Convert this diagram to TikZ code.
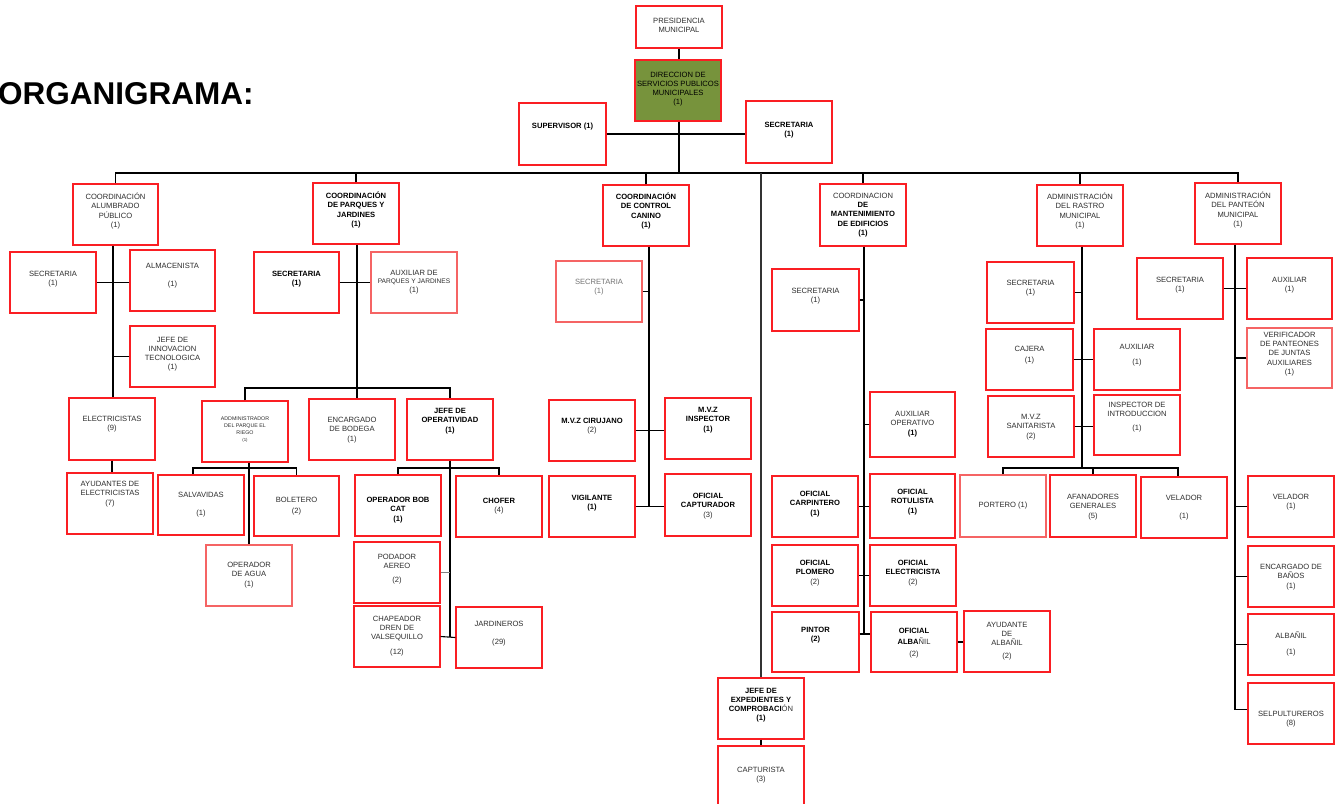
\documentclass[tikz,border=0pt]{standalone}
\usepackage{fontspec}
\setmainfont{Liberation Sans}
\usetikzlibrary{fit}
\definecolor{boxred}{RGB}{250,30,35}
\definecolor{lightred}{RGB}{245,100,100}
\definecolor{dirgreen}{RGB}{119,147,60}
\definecolor{txtgray}{RGB}{45,45,45}
\newcommand\bx[8][]{%
  \node[box,#1,fit={(#3,#4)(#5,#6)}] (#2) {};%
  \pgfmathsetmacro\bxc{(#3+#5)/2}%
  \node[txt] at (\bxc,#7) {#8};}
\newcommand\B[1]{\textbf{\color{black}#1}}
\newcommand\K[1]{{\color{black}#1}}
\newcommand\G[1]{{\color{black!55}#1}}
\newcommand\T[1]{{\fontsize{5.3}{6.5}\selectfont #1}}
\begin{document}
\begin{tikzpicture}[x=1pt,y=-1pt,
  box/.style={draw=boxred, line width=1.3pt, fill=white, inner sep=0pt},
  lightbox/.style={draw=lightred},
  txt/.style={align=center, font=\fontsize{7.6}{9.2}\selectfont, text=txtgray, inner sep=0pt},
  con/.style={draw=black, line width=1.1pt},
  stub/.style={draw=black!50, line width=1.1pt},
  long/.style={draw=black!80, line width=2.2pt}]
\useasboundingbox (0,0) rectangle (1335,803);

\node[anchor=west, inner sep=0pt, font=\bfseries\fontsize{31.5}{36}\selectfont] (title) at (-2,93.5) {ORGANIGRAMA:};

% top
\bx{pres}{636}{6}{722}{48}{25}{PRESIDENCIA\\MUNICIPAL}
\bx[fill=dirgreen]{dir}{635}{60}{721}{121}{89}{\K{DIRECCION DE}\\\K{SERVICIOS PUBLICOS}\\\K{MUNICIPALES}\\\K{(1)}}
\bx{sup}{519}{103}{606}{165}{127}{\B{SUPERVISOR (1)}}
\bx{sec0}{746}{101}{832}{163}{130}{\B{SECRETARIA}\\\B{(1)}}

% column 1
\bx{alum}{73}{184}{158}{245}{211}{COORDINACIÓN\\ALUMBRADO\\PÚBLICO\\(1)}
\bx{sec1}{10}{252}{96}{313}{279}{SECRETARIA\\(1)}
\bx{alm}{130}{250}{215}{311}{276}{ALMACENISTA\\[9pt](1)}
\bx{jinn}{130}{326}{215}{387}{354}{JEFE DE\\INNOVACION\\TECNOLOGICA\\(1)}
\bx{elec}{69}{398}{155}{460}{424}{ELECTRICISTAS\\(9)}
\bx{ayud}{67}{473}{153}{534}{494}{AYUDANTES DE\\ELECTRICISTAS\\(7)}

% column 2
\bx{parq}{313}{183}{399}{244}{210}{\B{COORDINACIÓN}\\\B{DE PARQUES Y}\\\B{JARDINES}\\\B{(1)}}
\bx{secp}{254}{252}{339}{313}{279}{\B{SECRETARIA}\\\B{(1)}}
\bx[lightbox]{auxp}{371}{252}{457}{313}{282}{AUXILIAR DE\\[-1pt]{\fontsize{6.6}{8}\selectfont PARQUES Y JARDINES}\\[-1pt](1)}
\bx{adm}{202}{401}{288}{462}{430}{\T{ADDMINISTRADOR}\\[-2.2pt]\T{DEL PARQUE EL}\\[-2.2pt]\T{RIEGO}\\[-2.2pt]{\fontsize{4.3}{5}\selectfont (1)}}
\bx{enc}{309}{399}{395}{460}{430}{ENCARGADO\\DE BODEGA\\(1)}
\bx{jop}{407}{399}{493}{460}{421}{\B{JEFE DE}\\\B{OPERATIVIDAD}\\\B{(1)}}
\bx{salv}{158}{475}{244}{535}{505}{SALVAVIDAS\\[9pt](1)}
\bx{bol}{254}{476}{339}{536}{506}{BOLETERO\\[2pt](2)}
\bx[lightbox]{agua}{206}{545}{292}{606}{575}{OPERADOR\\DE AGUA\\(1)}
\bx{bob}{355}{475}{441}{536}{510}{\B{OPERADOR BOB}\\\B{CAT}\\\B{(1)}}
\bx{chof}{456}{476}{542}{537}{506}{\B{CHOFER}\\(4)}
\bx{pod}{354}{542}{440}{603}{569}{PODADOR\\AEREO\\[5pt](2)}
\bx{chap}{354}{606}{440}{667}{636}{CHAPEADOR\\DREN DE\\VALSEQUILLO\\[5pt](12)}
\bx{jard}{456}{607}{542}{668}{634}{JARDINEROS\\[9pt](29)}

% column 3
\bx{can}{603}{185}{689}{246}{211}{\B{COORDINACIÓN}\\\B{DE CONTROL}\\\B{CANINO}\\\B{(1)}}
\bx[lightbox]{secc}{556}{261}{642}{322}{287}{\G{SECRETARIA}\\\G{(1)}}
\bx{cir}{549}{400}{635}{461}{426}{\B{M.V.Z CIRUJANO}\\(2)}
\bx{insp}{665}{398}{751}{459}{420}{\B{M.V.Z}\\\B{INSPECTOR}\\\B{(1)}}
\bx{vig}{549}{476}{635}{537}{503}{\B{VIGILANTE}\\\B{(1)}}
\bx{capt}{665}{474}{751}{536}{506}{\B{OFICIAL}\\\B{CAPTURADOR}\\(3)}

% column 4
\bx{mant}{820}{184}{906}{246}{215}{COORDINACION\\\B{DE}\\\B{MANTENIMIENTO}\\\B{DE EDIFICIOS}\\\B{(1)}}
\bx{secm}{772}{269}{859}{331}{296}{SECRETARIA\\(1)}
\bx{auxo}{870}{392}{955}{457}{424}{AUXILIAR\\OPERATIVO\\\B{(1)}}
\bx{carp}{772}{476}{858}{537}{504}{\B{OFICIAL}\\\B{CARPINTERO}\\\B{(1)}}
\bx{rot}{870}{474}{955}{538}{502}{\B{OFICIAL}\\\B{ROTULISTA}\\\B{(1)}}
\bx{plom}{772}{545}{858}{606}{573}{\B{OFICIAL}\\\B{PLOMERO}\\(2)}
\bx{elc}{870}{545}{956}{606}{573}{\B{OFICIAL}\\\B{ELECTRICISTA}\\(2)}
\bx{pint}{772}{612}{859}{672}{635}{\B{PINTOR}\\\B{(2)}}
\bx{alb}{871}{612}{957}{672}{643}{\B{OFICIAL}\\[2pt]\B{ALBA}ÑIL\\[2pt](2)}
\bx{ayalb}{964}{611}{1050}{672}{641}{AYUDANTE\\DE\\ALBAÑIL\\[4pt](2)}
\bx{jexp}{718}{678}{804}{739}{705}{\B{JEFE DE}\\\B{EXPEDIENTES Y}\\\B{COMPROBACI}ÓN\\\B{(1)}}
\bx{captu}{718}{746}{804}{812}{775}{CAPTURISTA\\(3)}

% column 5
\bx{ras}{1037}{185}{1123}{246}{211}{ADMINISTRACIÓN\\DEL RASTRO\\MUNICIPAL\\(1)}
\bx{secr}{987}{262}{1074}{323}{288}{SECRETARIA\\(1)}
\bx{caj}{986}{329}{1073}{390}{355}{CAJERA\\[2pt](1)}
\bx{auxr}{1094}{329}{1180}{390}{355}{AUXILIAR\\[6pt](1)}
\bx{san}{988}{396}{1074}{457}{427}{M.V.Z\\SANITARISTA\\(2)}
\bx{insr}{1094}{395}{1180}{455}{417}{INSPECTOR DE\\INTRODUCCION\\[5pt](1)}
\bx[lightbox]{port}{960}{475}{1046}{537}{506}{PORTERO (1)}
\bx{afan}{1050}{475}{1136}{537}{507}{AFANADORES\\GENERALES\\(5)}
\bx{vel1}{1141}{477}{1227}{538}{508}{VELADOR\\[9pt](1)}

% column 6
\bx{pan}{1195}{183}{1281}{244}{210}{ADMINISTRACIÓN\\DEL PANTEÓN\\MUNICIPAL\\(1)}
\bx{secpn}{1137}{258}{1223}{319}{285}{SECRETARIA\\(1)}
\bx{auxpn}{1247}{258}{1332}{319}{285}{AUXILIAR\\(1)}
\bx[lightbox]{verif}{1247}{328}{1332}{388}{354}{VERIFICADOR\\DE PANTEONES\\DE JUNTAS\\AUXILIARES\\(1)}
\bx{velp}{1248}{476}{1334}{537}{502}{VELADOR\\(1)}
\bx{banos}{1248}{546}{1334}{607}{577}{ENCARGADO DE\\BAÑOS\\(1)}
\bx{albp}{1248}{614}{1334}{675}{644}{ALBAÑIL\\[6pt](1)}
\bx{selp}{1248}{683}{1334}{744}{719}{SELPULTUREROS\\(8)}

% ---------- connectors ----------
\coordinate (busy) at (679,173);
\draw[con] (pres.south) -- (pres.south |- dir.north);
\draw[con] (dir.south -| busy) -- (busy);
\draw[con] (sup.east) -- (sup.east -| sec0.west);
\draw[con] (alum.north) |- (busy) -| (pan.north);
\draw[con] (parq.north) -- (parq.north |- busy);
\draw[con] (can.north) -- (can.north |- busy);
\draw[con] (mant.north) -- (mant.north |- busy);
\draw[con] (ras.north) -- (ras.north |- busy);
\draw[long] (jexp.north |- busy) -- (jexp.north);

% column 1
\coordinate (t1) at (113,0);
\draw[con] (alum.south -| t1) -- (elec.north -| t1);
\draw[con] (sec1.east) -- (sec1.east -| alm.west);
\draw[con] (jinn.west) -- (jinn.west -| t1);
\draw[con] (elec.south) -- (ayud.north -| elec.south);

% column 2
\coordinate (t2) at (357,0);
\coordinate (b2) at (357,388);
\draw[con] (parq.south -| t2) -- (b2);
\draw[con] (adm.north) |- (b2) -| (jop.north);
\draw[con] (b2) -- (b2 |- enc.north);
\draw[con] (secp.east) -- (secp.east -| auxp.west);
\coordinate (b3) at (249,468);
\draw[con] ([xshift=-8pt]salv.north) |- (b3) -| (bol.north);
\draw[con] (adm.south -| b3) -- (agua.north -| b3);
\coordinate (b4) at (450,468);
\draw[con] (bob.north) |- (b4) -| (chof.north);
\draw[con] (jop.south -| b4) -- (b4 |- chap.east);
\draw[stub] (pod.east) -- (pod.east -| b4);
\draw[con] (chap.east) -- (jard.west);

% column 3
\coordinate (t3) at (649,0);
\draw[con] (can.south -| t3) -- (vig.east -| t3);
\draw[con] (secc.east) -- (secc.east -| t3);
\draw[con] (cir.east) -- (cir.east -| insp.west);
\draw[con] (vig.east) -- (vig.east -| capt.west);

% column 4
\coordinate (t4) at (864,0);
\draw[con] (mant.south -| t4) -- ([yshift=8pt]pint.east -| t4);
\draw[con] (secm.east) -- (secm.east -| t4);
\draw[con] (auxo.west) -- (auxo.west -| t4);
\draw[con] (carp.east) -- (carp.east -| rot.west);
\draw[con] (plom.east) -- (plom.east -| elc.west);
\draw[con] ([yshift=8pt]pint.east) -- ([yshift=8pt]pint.east -| alb.west);
\draw[con] (alb.east) -- (alb.east -| ayalb.west);
\draw[con] (jexp.south) -- (captu.north);

% column 5
\coordinate (t5) at (1082,0);
\coordinate (b5) at (1082,468);
\draw[con] (ras.south -| t5) -- (b5);
\draw[con] (secr.east) -- (secr.east -| t5);
\draw[con] (caj.east) -- (caj.east -| auxr.west);
\draw[con] (san.east) -- (san.east -| insr.west);
\draw[con] (port.north) |- (b5) -| ([xshift=-6pt]vel1.north);
\draw[con] (afan.north) -- (afan.north |- b5);

% column 6
\coordinate (t6) at (1235,0);
\draw[con] (pan.south -| t6) -- ([yshift=4pt]selp.west -| t6) -- ([yshift=4pt]selp.west);
\draw[con] (secpn.east) -- (secpn.east -| auxpn.west);
\draw[con] (verif.west) -- (verif.west -| t6);
\draw[con] (velp.west) -- (velp.west -| t6);
\draw[con] (banos.west) -- (banos.west -| t6);
\draw[con] (albp.west) -- (albp.west -| t6);
\end{tikzpicture}
\end{document}
